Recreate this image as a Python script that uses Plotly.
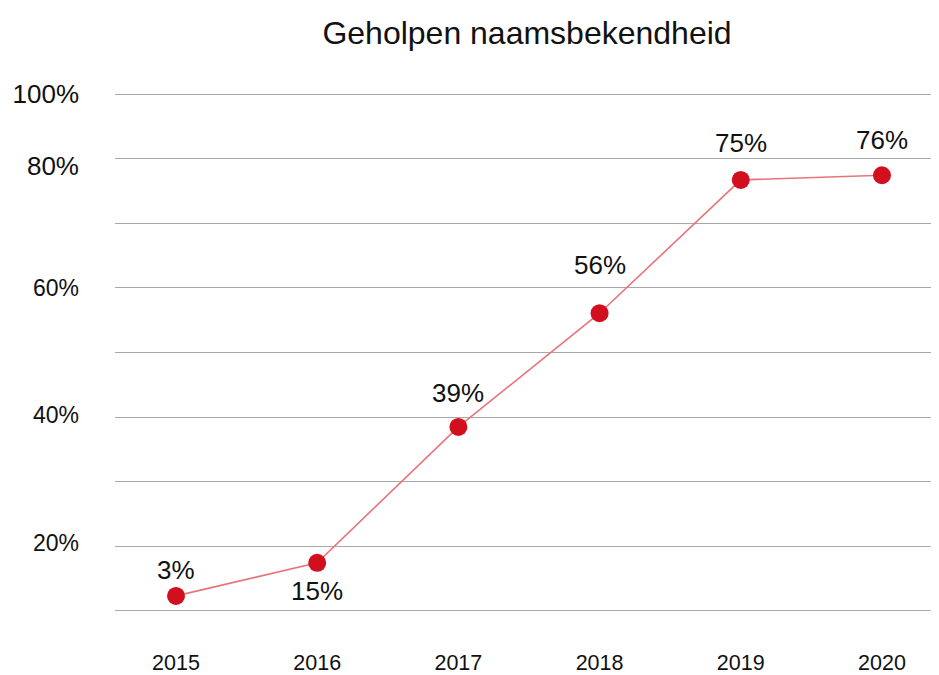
import plotly.graph_objects as go

# data
years = ["2015", "2016", "2017", "2018", "2019", "2020"]
label_text = ["3%", "15%", "39%", "56%", "75%", "76%"]
# marker heights on the chart's own gridline scale (0..100)
plot_y = [2.9, 9.3, 35.6, 57.6, 83.4, 84.3]

tick_labels = ["100%", "80%", "60%", "40%", "20%"]
tick_pos = [99.8, 85.9, 62.5, 37.9, 13.2]
tick_size = [26, 26, 23, 23, 23]

# vertical offset (px) of each point label
label_shift = [26, -28, 34, 48, 37, 35]

FONT = "Liberation Sans, Arial, sans-serif"

# the html page has an 8px body margin, so the figure is drawn 8px smaller
W, H = 931, 667

fig = go.Figure()

fig.add_trace(go.Scatter(
    x=years,
    y=plot_y,
    mode="lines+markers",
    line=dict(color="#e8737b", width=1.6),
    marker=dict(color="#d20f1e", size=18),
    hoverinfo="skip",
))

annotations = []
for i, (yv, txt, dy) in enumerate(zip(plot_y, label_text, label_shift)):
    annotations.append(dict(
        x=i, y=yv, xref="x", yref="y", text=txt, showarrow=False,
        yshift=dy, font=dict(size=26, color="#111111", family=FONT),
    ))

fig.update_layout(
    width=W,
    height=H,
    margin=dict(l=107, r=0, t=82, b=60),
    paper_bgcolor="white",
    plot_bgcolor="white",
    showlegend=False,
    font=dict(family=FONT, color="#111111"),
    annotations=annotations,
    title=dict(
        text="Geholpen naamsbekendheid",
        x=0.5, xref="paper", xanchor="center",
        y=1 - 25 / H, yref="container", yanchor="middle",
        font=dict(size=32, color="#111111", family=FONT),
    ),
)

fig.update_xaxes(
    type="category",
    range=[-0.432, 5.404],
    showgrid=False,
    showline=False,
    zeroline=False,
    automargin=False,
    ticks="",
    ticklabelstandoff=32,
    tickfont=dict(size=21.5, color="#111111"),
)

fig.update_yaxes(
    range=[-0.8, 100.8],
    showgrid=False,
    zeroline=False,
    showline=False,
    automargin=False,
    tickvals=tick_pos,
    ticktext=[f'<span style="font-size:{s}px">{t}</span>'
              for t, s in zip(tick_labels, tick_size)],
    ticks="",
    ticklabelstandoff=35,
    tickfont=dict(size=23, color="#111111"),
    minor=dict(
        tick0=0, dtick=12.5, showgrid=True,
        gridcolor="#a8a8a8", gridwidth=1.2,
    ),
)

fig.write_html("out.html")
